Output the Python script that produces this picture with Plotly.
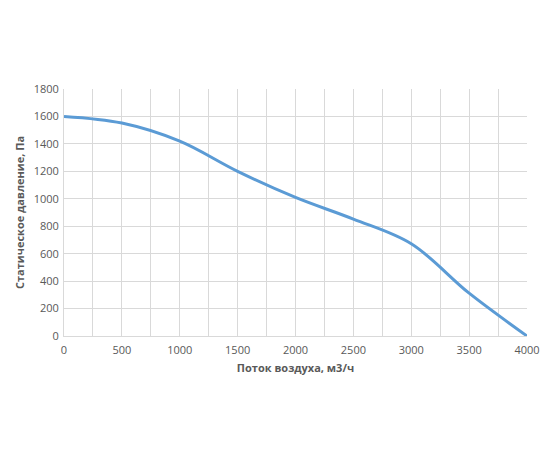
import plotly.graph_objects as go

# airflow, m3/h
flow = [0, 500, 1000, 1500, 2000, 2500, 3000, 3500, 4000]
# static pressure, Pa
pressure = [1600, 1552, 1420, 1200, 1010, 852, 672, 312, 0]

x_ticks = [0, 500, 1000, 1500, 2000, 2500, 3000, 3500, 4000]
y_ticks = [0, 200, 400, 600, 800, 1000, 1200, 1400, 1600, 1800]

fig = go.Figure()
fig.add_trace(
    go.Scatter(x=flow, y=pressure, mode='lines', line=dict(color='#5B9BD5', width=3, shape='spline', smoothing=1.0),
               showlegend=False)
)

grid = '#D9D9D9'
fig.update_layout({'plot_bgcolor': 'white', 'paper_bgcolor': 'white'}, width=550, height=450,
                  margin=dict(l=54, r=31, t=81, b=122),
                  font=dict(family='Open Sans, Liberation Sans, sans-serif', color='#595959', size=11))
fig.update_xaxes(range=[0, 4000], tickvals=x_ticks, showgrid=True, gridcolor=grid, gridwidth=1,
                 minor=dict(dtick=250, showgrid=True, gridcolor=grid, gridwidth=1),
                 showline=True, linecolor=grid, zeroline=False, ticks='', ticklabelstandoff=4,
                 title=dict(text='<b>Поток воздуха, м3/ч</b>', font=dict(size=11, color='#595959'), standoff=8))
fig.update_yaxes(range=[0, 1800], tickvals=y_ticks, showgrid=True, gridcolor=grid, gridwidth=1,
                 showline=True, linecolor=grid, zeroline=False, ticks='', ticklabelstandoff=2,
                 title=dict(text='<b>Статическое давление, Па</b>', font=dict(size=11, color='#595959'),
                            standoff=6))
fig.write_html("out.html")
